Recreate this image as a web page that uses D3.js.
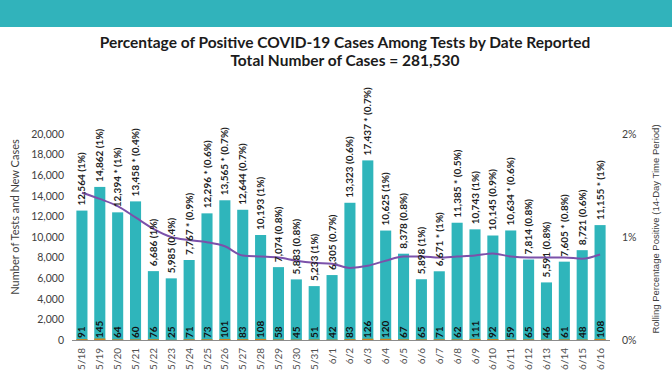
<!DOCTYPE html>
<html>
<head>
<meta charset="utf-8">
<script src="https://cdn.jsdelivr.net/npm/d3@7"></script>
<style>
  body { margin: 0; background: #fff; }
  svg text { font-family: Lato, "Open Sans", sans-serif; }
</style>
</head>
<body>
<div id="chart"></div>
<script>
// dates reported
const dates = ["5/18","5/19","5/20","5/21","5/22","5/23","5/24","5/25","5/26","5/27",
  "5/28","5/29","5/30","5/31","6/1","6/2","6/3","6/4","6/5","6/6",
  "6/7","6/8","6/9","6/10","6/11","6/12","6/13","6/14","6/15","6/16"];

// number of tests per day
const tests = [12564,14862,12394,13458,6686,5985,7767,12296,13565,12644,
  10193,7074,5883,5233,6305,13323,17437,10625,8378,5898,
  6671,11385,10743,10145,10634,7814,5591,7605,8721,11155];

// daily percent positive as printed on the label
const dailyPct = ["1%","1%","1%","0.4%","1%","0.4%","0.9%","0.6%","0.7%","0.7%",
  "1%","0.8%","0.8%","1%","0.7%","0.6%","0.7%","1%","0.8%","1%",
  "1%","0.5%","1%","0.9%","0.6%","0.8%","0.8%","0.8%","0.6%","1%"];

// asterisk flags on the labels
const starred = [0,0,1,1,0,0,1,1,1,0, 0,0,0,0,0,0,1,0,0,0, 1,1,0,0,1,0,0,1,0,1];

// new cases per day
const newCases = [91,145,64,60,76,25,71,73,101,83,
  108,58,45,51,42,83,126,120,67,65,
  71,62,111,92,59,65,46,61,48,108];

// rolling 14-day percent positive (%)
const rollingPct = [1.43,1.37,1.30,1.19,1.08,1.00,0.97,0.95,0.91,0.82,
  0.81,0.80,0.77,0.75,0.74,0.70,0.72,0.77,0.81,0.81,
  0.80,0.81,0.82,0.84,0.81,0.80,0.80,0.80,0.79,0.83];

const leftTicks = [0,2000,4000,6000,8000,10000,12000,14000,16000,18000,20000];
const rightTicks = [0,1,2];

class TestsChart {
  constructor(_config) {
    this.config = {
      parent: _config.parent,
      width: 672,
      height: 372,
      plot: { left: 73, right: 609, top: 134, bottom: 340 },
    };
    this.initVis();
  }

  initVis() {
    const vis = this;
    const p = vis.config.plot;

    vis.svg = d3.select(vis.config.parent)
      .append("svg")
      .attr("width", vis.config.width)
      .attr("height", vis.config.height);

    // header band
    vis.svg.append("rect")
      .attr("x", 0).attr("y", 0)
      .attr("width", vis.config.width).attr("height", 27)
      .attr("fill", "#31b3bb");

    vis.svg.append("text")
      .attr("x", 345).attr("y", 48)
      .attr("text-anchor", "middle")
      .style("font-size", "15.5px").style("font-weight", "bold")
      .attr("fill", "#1b1b1b")
      .text("Percentage of Positive COVID-19 Cases Among Tests by Date Reported");

    vis.svg.append("text")
      .attr("x", 345).attr("y", 66)
      .attr("text-anchor", "middle")
      .style("font-size", "15.5px").style("font-weight", "bold")
      .attr("fill", "#1b1b1b")
      .text("Total Number of Cases = 281,530");

    vis.x = d3.scaleBand().domain(dates).range([p.left, p.right]).paddingInner(0.38).paddingOuter(0.19);
    vis.y = d3.scaleLinear().domain([0, 20000]).range([p.bottom, p.top]);
    vis.yR = d3.scaleLinear().domain([0, 2]).range([p.bottom, p.top]);

    // left axis
    const yAxis = vis.svg.append("g")
      .attr("transform", `translate(${p.left},0)`)
      .call(d3.axisLeft(vis.y).tickValues(leftTicks).tickSize(0).tickPadding(9).tickFormat(d3.format(",")));
    yAxis.select(".domain").remove();
    yAxis.selectAll("text").style("font-size", "10.5px").attr("fill", "#404040");

    // right axis
    const yAxisR = vis.svg.append("g")
      .attr("transform", `translate(${p.right},0)`)
      .call(d3.axisRight(vis.yR).tickValues(rightTicks).tickSize(0).tickPadding(13).tickFormat((d) => d + "%"));
    yAxisR.select(".domain").remove();
    yAxisR.selectAll("text").style("font-size", "10.5px").attr("fill", "#404040");

    vis.svg.append("text")
      .attr("transform", "rotate(-90)")
      .attr("x", -217).attr("y", 15)
      .attr("dy", "0.35em")
      .attr("text-anchor", "middle")
      .style("font-size", "11px")
      .attr("fill", "#404040")
      .text("Number of Tests and New Cases");

    vis.svg.append("text")
      .attr("transform", "rotate(-90)")
      .attr("x", -229).attr("y", 656)
      .attr("dy", "0.35em")
      .attr("text-anchor", "middle")
      .style("font-family", "'Liberation Sans', sans-serif")
      .style("font-size", "9.5px")
      .attr("fill", "#404040")
      .text("Rolling Percentage Positive (14-Day Time Period)");

    vis.updateVis();
  }

  updateVis() {
    const vis = this;
    const p = vis.config.plot;
    const rows = dates.map((d, i) => ({
      date: d, tests: tests[i], cases: newCases[i],
      label: `${d3.format(",")(tests[i])}${starred[i] ? " *" : ""} (${dailyPct[i]})`,
      rolling: rollingPct[i],
    }));
    const cx = (d) => vis.x(d.date) + vis.x.bandwidth() / 2;

    vis.svg.selectAll("rect.bar-tests")
      .data(rows)
      .join("rect")
      .attr("class", "bar-tests")
      .attr("x", (d) => vis.x(d.date))
      .attr("y", (d) => vis.y(d.tests))
      .attr("width", vis.x.bandwidth())
      .attr("height", (d) => p.bottom - vis.y(d.tests))
      .attr("fill", "#2fb5bb");

    vis.svg.selectAll("rect.bar-cases")
      .data(rows)
      .join("rect")
      .attr("class", "bar-cases")
      .attr("x", (d) => vis.x(d.date))
      .attr("y", (d) => vis.y(d.cases))
      .attr("width", vis.x.bandwidth())
      .attr("height", (d) => p.bottom - vis.y(d.cases))
      .attr("fill", "#c8861f");

    // x axis
    const xAxis = vis.svg.append("g")
      .attr("transform", `translate(0,${p.bottom})`)
      .call(d3.axisBottom(vis.x).tickSize(0));
    xAxis.select(".domain").attr("stroke", "#8c8c8c").attr("d", `M${p.left - 1},0.5H${p.right + 1}`);
    xAxis.selectAll("text")
      .attr("transform", "rotate(-90)")
      .attr("x", -8).attr("y", 0).attr("dy", "0.35em")
      .style("text-anchor", "end")
      .style("font-size", "10px")
      .attr("fill", "#505050");

    // rolling line
    const line = d3.line()
      .x(cx)
      .y((d) => vis.yR(d.rolling))
      .curve(d3.curveMonotoneX);
    vis.svg.append("path")
      .datum(rows)
      .attr("d", line)
      .attr("fill", "none")
      .attr("stroke", "#7b51aa")
      .attr("stroke-width", 2);

    // tests labels above bars
    vis.svg.selectAll("text.lbl-tests")
      .data(rows)
      .join("text")
      .attr("class", "lbl-tests")
      .attr("transform", (d) => `translate(${cx(d)},${vis.y(d.tests) - 5}) rotate(-90)`)
      .attr("dy", "0.35em")
      .style("font-size", "10px").style("font-weight", "bold")
      .attr("fill", "#1e1e1e")
      .text((d) => d.label);

    // new cases labels inside bars
    vis.svg.selectAll("text.lbl-cases")
      .data(rows)
      .join("text")
      .attr("class", "lbl-cases")
      .attr("transform", (d) => `translate(${cx(d)},${p.bottom - 2}) rotate(-90)`)
      .attr("dy", "0.35em")
      .style("font-size", "10px").style("font-weight", "bold")
      .attr("fill", "#111")
      .text((d) => d.cases);
  }
}

new TestsChart({ parent: "#chart" });
</script>
</body>
</html>
